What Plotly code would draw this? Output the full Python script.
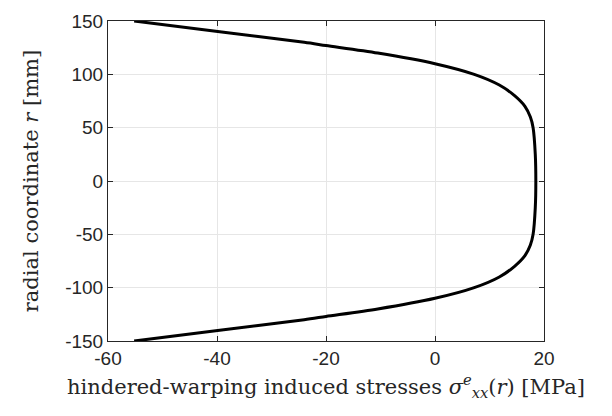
import plotly.graph_objects as go

# Radial positions (upper half, mm) and hindered-warping stress (MPa); profile is symmetric in r
r_half = [150, 140, 130, 127, 120, 110, 100, 90, 80, 70, 60, 50, 25, 0]
sigma_half = [-55.2, -39.5, -24.0, -20.0, -10.5, 0.0, 7.2, 11.8, 14.6, 16.5, 17.5, 18.0, 18.4, 18.5]

x_ticks = [-60, -40, -20, 0, 20]
y_ticks = [-150, -100, -50, 0, 50, 100, 150]

r_vals = r_half + [-v for v in reversed(r_half[:-1])]
sigma_vals = sigma_half + list(reversed(sigma_half[:-1]))

fig = go.Figure()
fig.add_trace(go.Scatter(
    x=sigma_vals, y=r_vals, mode="lines",
    line=dict(color="black", width=3, shape="spline", smoothing=0.8),
    hoverinfo="skip", showlegend=False,
))

axis_common = dict(
    showline=True, linecolor="#262626", linewidth=1, mirror="allticks",
    ticks="inside", ticklen=5, tickcolor="#262626", tickwidth=1,
    showgrid=True, gridcolor="#e6e6e6", gridwidth=1, zeroline=False,
    tickfont=dict(family="Liberation Sans, Arial, sans-serif", size=19, color="#262626"),
)

title_font = dict(family="DejaVu Serif, serif", size=21, color="#262626")

fig.update_layout(
    width=612, height=416,
    margin=dict(l=108, r=68, t=11, b=75),
    paper_bgcolor="white", plot_bgcolor="white",
    xaxis=dict(
        range=[-60, 20], tickvals=x_ticks, ticktext=[str(v) for v in x_ticks],
        title=dict(
            text="hindered-warping induced stresses <i>σ</i><sup><i>e</i></sup><sub><i>xx</i></sub>(<i>r</i>) [MPa]",
            font=title_font,
            standoff=11,
        ),
        **axis_common,
    ),
    yaxis=dict(
        range=[-150, 150], tickvals=y_ticks, ticktext=[str(v) for v in y_ticks],
        title=dict(
            text="radial coordinate <i>r</i> [mm]",
            font=title_font,
            standoff=20,
        ),
        **axis_common,
    ),
)

fig.write_html("out.html")
